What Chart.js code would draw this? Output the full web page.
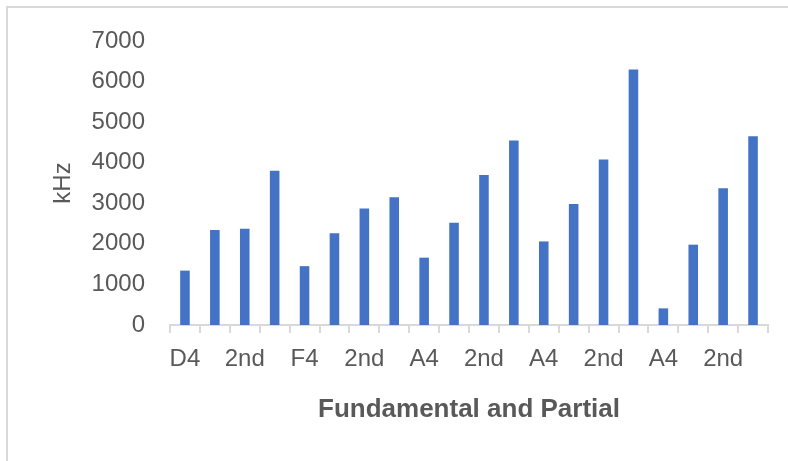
<!DOCTYPE html>
<html>
<head>
<meta charset="utf-8">
<script src="https://cdn.jsdelivr.net/npm/chart.js@4"></script>
<style>
  html, body { margin: 0; padding: 0; background: #ffffff; overflow: hidden; }
  #wrap { position: relative; width: 788px; height: 461px; overflow: hidden; }
  #frame { position: absolute; left: 6px; top: 6px; width: 800px; height: 480px;
           border: 2px solid #d9d9d9; box-sizing: border-box; }
  #chart { position: absolute; left: 0; top: 0; }
</style>
</head>
<body>
<div id="wrap">
  <div id="frame"></div>
  <canvas id="chart" width="788" height="461"></canvas>
</div>
<script>
// Note and partial for each bar (every other label is shown on the axis)
const categories = ['D4', '1st', '2nd', '3rd',
                    'F4', '1st', '2nd', '3rd',
                    'A4', '1st', '2nd', '3rd',
                    'A4', '1st', '2nd', '3rd',
                    'A4', '1st', '2nd', '3rd'];

// Measured frequencies (kHz)
const frequencies = [1340, 2340, 2370, 3800,
                     1450, 2260, 2870, 3150,
                     1660, 2520, 3700, 4550,
                     2060, 2980, 4080, 6300,
                     410, 1980, 3370, 4650];

const yTicks = [0, 1000, 2000, 3000, 4000, 5000, 6000, 7000];

const textColor = '#595959';
const lineColor = '#d9d9d9';
const fontFamily = '"Liberation Sans", Arial, sans-serif';

new Chart(document.getElementById('chart'), {
  type: 'bar',
  data: {
    labels: categories,
    datasets: [{
      data: frequencies,
      backgroundColor: '#4472c4',
      borderWidth: 0,
      barPercentage: 0.32,
      categoryPercentage: 1.0
    }]
  },
  options: {
    responsive: false,
    animation: false,
    layout: { padding: { left: 0, right: 20, top: 41, bottom: 26 } },
    plugins: { legend: { display: false }, tooltip: { enabled: false } },
    scales: {
      x: {
        offset: true,
        afterFit: (scale) => { scale.height = 110; },
        grid: {
          display: true,
          drawOnChartArea: false,
          drawTicks: true,
          tickLength: 8,
          color: lineColor,
          lineWidth: 2,
          offset: true
        },
        border: { display: true, color: lineColor, width: 2 },
        ticks: {
          autoSkip: false,
          maxRotation: 0,
          minRotation: 0,
          padding: 12,
          color: textColor,
          font: { family: fontFamily, size: 24 },
          callback: function (value, index) {
            return index % 2 === 0 ? this.getLabelForValue(value) : '';
          }
        },
        title: {
          display: true,
          text: 'Fundamental and Partial',
          color: textColor,
          font: { family: fontFamily, size: 26, weight: 'bold' },
          padding: { top: 0, bottom: 10 }
        }
      },
      y: {
        min: yTicks[0],
        max: yTicks[yTicks.length - 1],
        afterFit: (scale) => { scale.width = 170; },
        afterBuildTicks: (scale) => { scale.ticks = yTicks.map(v => ({ value: v })); },
        grid: { display: false, drawTicks: false },
        border: { display: false },
        ticks: {
          padding: 25,
          color: textColor,
          font: { family: fontFamily, size: 24 },
          callback: (value) => String(value)
        },
        title: {
          display: true,
          text: 'kHz',
          color: textColor,
          font: { family: fontFamily, size: 24 },
          padding: { top: 49, bottom: 0 }
        }
      }
    }
  }
});
</script>
</body>
</html>
